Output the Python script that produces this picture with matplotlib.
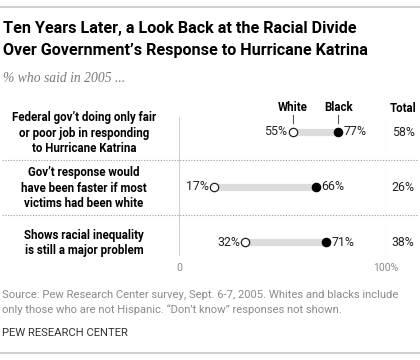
import matplotlib
matplotlib.use("Agg")
import matplotlib.pyplot as plt
from matplotlib.lines import Line2D

questions = [
    "Federal gov\u2019t doing only fair\nor poor job in responding\nto Hurricane Katrina",
    "Gov\u2019t response would\nhave been faster if most\nvictims had been white",
    "Shows racial inequality\nis still a major problem",
]
white = [55, 17, 32]
black = [77, 66, 71]
total = [58, 26, 38]
axis_ticks = [0, 100]
axis_ticklabels = ["0", "100%"]

W, H = 420, 360
fig = plt.figure(figsize=(W / 100, H / 100), dpi=100)

def fy(py):
    return 1 - py / H

def fx(px):
    return px / W

SANS = "Roboto"

# top and bottom rules
fig.add_artist(Line2D([0, 1], [fy(7), fy(7)], color="#c8c8c8", lw=1.2))
fig.add_artist(Line2D([0, 1], [fy(353), fy(353)], color="#c8c8c8", lw=1.2))

fig.text(fx(3), fy(29), "Ten Years Later, a Look Back at the Racial Divide",
         fontsize=11.6, fontweight="bold", family=SANS, va="center", ha="left")
fig.text(fx(3), fy(51), "Over Government\u2019s Response to Hurricane Katrina",
         fontsize=11.6, fontweight="bold", family=SANS, va="center", ha="left")
fig.text(fx(3), fy(79), "% who said in 2005 ...", fontsize=9.8, style="italic",
         family="Liberation Serif", color="#7a7a7a", va="center", ha="left")

# axes for the dumbbells
x0, x1 = 179, 386
ytop, ybot = 100, 262
row0, rowstep = 132, 55
ax = fig.add_axes([fx(x0), fy(ybot), fx(x1) - fx(x0), (ybot - ytop) / H])
ax.set_xlim(0, 100)
ax.set_ylim((ybot - row0) / rowstep, (ytop - row0) / rowstep)
ax.axis("off")

def ry(py):
    return (py - row0) / rowstep

for t in axis_ticks:
    ax.plot([t, t], [ry(117), ry(255)], color="#d0d0d0", lw=0.8, zorder=0)

VAL = 8.9
for i, (w, b, t, q) in enumerate(zip(white, black, total, questions)):
    ax.plot([w, b], [i, i], color="#dcdcdc", lw=5.2, solid_capstyle="butt", zorder=1)
    ax.plot([w], [i], "o", ms=6, mfc="white", mec="#222222", mew=0.9, zorder=3)
    ax.plot([b], [i], "o", ms=6, mfc="black", mec="black", mew=0.9, zorder=3)
    ax.text(w - 2.6, i, f"{w}%", ha="right", va="center", fontsize=VAL,
            family=SANS, color="#222222")
    ax.text(b + 2.6, i, f"{b}%", ha="left", va="center", fontsize=VAL,
            family=SANS, color="#222222")
    fig.text(fx(403), fy(row0 + rowstep * i), f"{t}%", ha="center", va="center",
             fontsize=VAL, family=SANS, color="#222222")
    fig.text(fx(84), fy(row0 + 1 + rowstep * i), q, ha="center", va="center",
             fontsize=8.3, fontweight="bold", family=SANS, linespacing=1.27)

# header
ax.text(white[0], ry(108), "White", ha="center", va="center", fontsize=8.3,
        fontweight="bold", family=SANS)
ax.text(black[0], ry(108), "Black", ha="center", va="center", fontsize=8.3,
        fontweight="bold", family=SANS)
ax.plot([white[0], white[0]], [ry(115), ry(123)], color="#555555", lw=0.8)
ax.plot([black[0], black[0]], [ry(115), ry(123)], color="#555555", lw=0.8)
fig.text(fx(403), fy(108), "Total", ha="center", va="center", fontsize=8.3,
         fontweight="bold", family=SANS)

# separators
for py in (160, 215):
    fig.add_artist(Line2D([fx(2), fx(418)], [fy(py), fy(py)], color="#9a9a9a",
                          lw=0.8, linestyle=(0, (1, 1.5))))

for t, lab in zip(axis_ticks, axis_ticklabels):
    ax.text(t, ry(268), lab, ha="center", va="center", fontsize=7.5,
            family=SANS, color="#8a8a8a")

fig.text(fx(2), fy(295), "Source: Pew Research Center survey, Sept. 6-7, 2005. Whites and blacks include",
         fontsize=8.1, family=SANS, color="#8a8a8a", va="center", ha="left")
fig.text(fx(2), fy(310), "only those who are not Hispanic. \u201cDon\u2019t know\u201d responses not shown.",
         fontsize=8.1, family=SANS, color="#8a8a8a", va="center", ha="left")
fig.text(fx(2), fy(333), "PEW RESEARCH CENTER", fontsize=8.1, family=SANS,
         color="#333333", va="center", ha="left")

fig.savefig("out.png", dpi=100)
